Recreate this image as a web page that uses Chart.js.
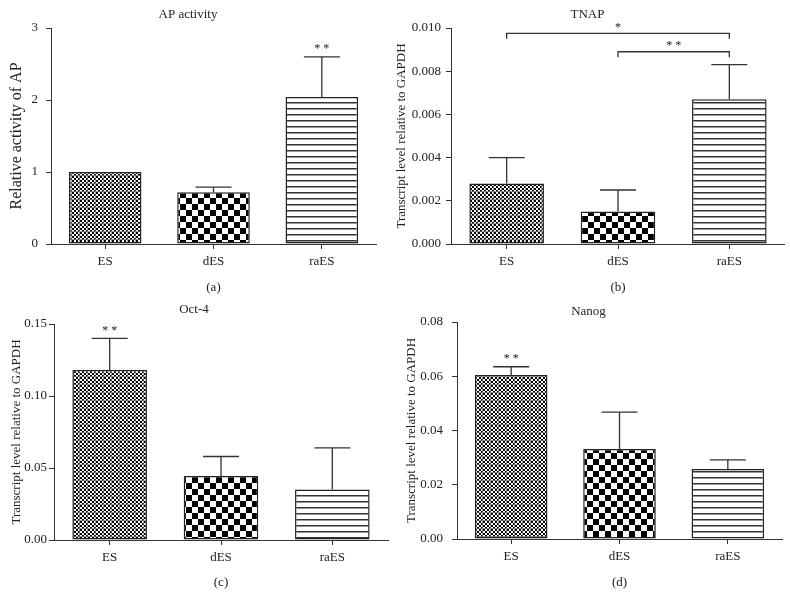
<!DOCTYPE html>
<html>
<head>
<meta charset="utf-8">
<script src="https://cdn.jsdelivr.net/npm/chart.js@4/dist/chart.umd.min.js"></script>
<style>
  body { margin: 0; background: #fff; }
  #wrap { position: relative; width: 790px; height: 597px; overflow: hidden; }
  canvas { position: absolute; }
</style>
</head>
<body>
<div id="wrap">
  <canvas id="chartA" width="395" height="300" style="left:0px;top:0px"></canvas>
  <canvas id="chartB" width="395" height="300" style="left:390px;top:0px"></canvas>
  <canvas id="chartC" width="395" height="300" style="left:0px;top:297px"></canvas>
  <canvas id="chartD" width="395" height="300" style="left:395px;top:297px"></canvas>
</div>
<script>
const categories = ['ES', 'dES', 'raES']

// means and upper error (SEM)
const apMean = [1.0, 0.72, 2.04]
const apErr = [0, 0.07, 0.56]
const apStars = ['', '', '**']

const tnapMean = [0.0028, 0.0015, 0.0067]
const tnapErr = [0.0012, 0.0010, 0.0016]
const tnapStars = ['', '', '']
const tnapBrackets = [
  { from: 0, to: 2, level: 0.00975, drop: 0.00025, label: '*' },
  { from: 1, to: 2, level: 0.0089, drop: 0.00025, label: '**' }
]

const oct4Mean = [0.118, 0.0445, 0.035]
const oct4Err = [0.022, 0.0135, 0.029]
const oct4Stars = ['**', '', '']

const nanogMean = [0.0605, 0.0332, 0.0258]
const nanogErr = [0.0030, 0.0136, 0.0034]
const nanogStars = ['**', '', '']

const serif = "'Liberation Serif', 'DejaVu Serif', serif"
const axisColor = '#333'

function makePattern (kind) {
  const c = document.createElement('canvas')
  const ctx = c.getContext('2d')
  if (kind === 'fine') {
    c.width = 8; c.height = 8
    ctx.fillStyle = '#fff'
    ctx.fillRect(0, 0, 8, 8)
    ctx.fillStyle = '#000'
    for (let i = 0; i < 4; i++) {
      for (let j = 0; j < 4; j++) {
        if ((i + j) % 2 === 0) ctx.fillRect(i * 2, j * 2, 2, 2)
      }
    }
    ctx.fillStyle = 'rgba(120,120,120,0.7)'
    ctx.fillRect(7, 0, 1, 8)
    ctx.fillRect(0, 7, 8, 1)
  } else if (kind === 'coarse') {
    c.width = 12; c.height = 12
    ctx.fillStyle = '#fff'
    ctx.fillRect(0, 0, 12, 12)
    ctx.fillStyle = '#000'
    ctx.fillRect(0, 0, 6, 6)
    ctx.fillRect(6, 6, 6, 6)
  } else {
    c.width = 6; c.height = 6
    ctx.fillStyle = '#fff'
    ctx.fillRect(0, 0, 6, 6)
    ctx.fillStyle = '#333'
    ctx.fillRect(0, 0, 6, 1.5)
  }
  return ctx.createPattern(c, 'repeat')
}

const patterns = [makePattern('fine'), makePattern('coarse'), makePattern('lines')]

const errorBarPlugin = {
  id: 'errorBars',
  afterDatasetsDraw (chart, args, opts) {
    const ctx = chart.ctx
    const meta = chart.getDatasetMeta(0)
    const y = chart.scales.y
    const ds = chart.data.datasets[0]
    ctx.save()
    ctx.strokeStyle = axisColor
    ctx.lineWidth = 1.3
    meta.data.forEach((bar, i) => {
      const err = opts.err[i]
      const topVal = ds.data[i] + err
      const yTop = y.getPixelForValue(topVal)
      if (err > 0) {
        ctx.beginPath()
        ctx.moveTo(bar.x, bar.y)
        ctx.lineTo(bar.x, yTop)
        ctx.moveTo(bar.x - 18, yTop)
        ctx.lineTo(bar.x + 18, yTop)
        ctx.stroke()
      }
      if (opts.stars[i]) {
        ctx.fillStyle = '#222'
        ctx.font = '12px ' + serif
        ctx.textAlign = 'center'
        ctx.textBaseline = 'middle'
        ctx.fillText(opts.stars[i].split('').join(' '), bar.x, yTop - 8)
      }
    })
    const brackets = opts.brackets || []
    brackets.forEach(b => {
      const x1 = meta.data[b.from].x
      const x2 = meta.data[b.to].x
      const yl = y.getPixelForValue(b.level)
      const yd = y.getPixelForValue(b.level - b.drop)
      ctx.beginPath()
      ctx.moveTo(x1, yd)
      ctx.lineTo(x1, yl)
      ctx.lineTo(x2, yl)
      ctx.lineTo(x2, yd)
      ctx.stroke()
      ctx.fillStyle = '#222'
      ctx.font = '12px ' + serif
      ctx.textAlign = 'center'
      ctx.textBaseline = 'middle'
      ctx.fillText(b.label.split('').join(' '), (x1 + x2) / 2, yl - 6)
    })
    ctx.restore()
  }
}

function makeChart (id, cfg) {
  const ctx = document.getElementById(id).getContext('2d')
  return new Chart(ctx, {
    type: 'bar',
    data: {
      labels: categories,
      datasets: [{
        data: cfg.mean,
        backgroundColor: patterns,
        borderColor: '#222',
        borderWidth: 1.5,
        borderSkipped: false,
        categoryPercentage: 1,
        barPercentage: 0.67
      }]
    },
    plugins: [errorBarPlugin],
    options: {
      responsive: false,
      animation: false,
      devicePixelRatio: 1,
      layout: { padding: { top: 0, right: cfg.padRight, bottom: 0, left: 0 } },
      plugins: {
        legend: { display: false },
        tooltip: { enabled: false },
        title: {
          display: true,
          text: cfg.title,
          color: '#222',
          font: { family: serif, size: 13, weight: 'normal' },
          padding: { top: cfg.titleTop, bottom: cfg.titleBottom }
        },
        errorBars: { err: cfg.err, stars: cfg.stars, brackets: cfg.brackets }
      },
      scales: {
        x: {
          offset: true,
          grid: { display: true, drawOnChartArea: false, offset: false, tickLength: 5, color: axisColor },
          border: { display: true, color: axisColor, width: 1 },
          ticks: { color: '#222', padding: 5, font: { family: serif, size: 13 } },
          title: {
            display: true,
            text: cfg.panel,
            color: '#222',
            font: { family: serif, size: 13 },
            padding: { top: 0, bottom: cfg.panelBottom }
          },
          afterFit: s => { s.height = cfg.xHeight }
        },
        y: {
          min: 0,
          max: cfg.max,
          grid: { display: true, drawOnChartArea: false, tickLength: 5, color: axisColor },
          border: { display: true, color: axisColor, width: 1 },
          ticks: {
            stepSize: cfg.step,
            color: '#222',
            padding: cfg.tickPad,
            font: { family: serif, size: 13 },
            callback: v => v.toFixed(cfg.digits)
          },
          title: {
            display: true,
            text: cfg.yTitle,
            color: '#222',
            font: { family: serif, size: cfg.yTitleSize },
            padding: { top: cfg.yTitlePad, bottom: 0 }
          },
          afterFit: s => { s.width = cfg.yWidth }
        }
      }
    }
  })
}

makeChart('chartA', {
  mean: apMean, err: apErr, stars: apStars, title: 'AP activity', panel: '(a)',
  yTitle: 'Relative activity of AP', yTitleSize: 16, max: 3, step: 1, digits: 0, tickPad: 8,
  yWidth: 51, xHeight: 56, padRight: 19, titleTop: 7, titleBottom: 5.4, panelBottom: 5, yTitlePad: 7
})

makeChart('chartB', {
  mean: tnapMean, err: tnapErr, stars: tnapStars, brackets: tnapBrackets, title: 'TNAP', panel: '(b)',
  yTitle: 'Transcript level relative to GAPDH', yTitleSize: 13, max: 0.01, step: 0.002, digits: 3, tickPad: 5,
  yWidth: 61, xHeight: 56, padRight: 0, titleTop: 7, titleBottom: 5.4, panelBottom: 5, yTitlePad: 4
})

makeChart('chartC', {
  mean: oct4Mean, err: oct4Err, stars: oct4Stars, title: 'Oct-4', panel: '(c)',
  yTitle: 'Transcript level relative to GAPDH', yTitleSize: 13, max: 0.15, step: 0.05, digits: 2, tickPad: 2,
  yWidth: 54, xHeight: 57, padRight: 7, titleTop: 5.2, titleBottom: 6.2, panelBottom: 7, yTitlePad: 9
})

makeChart('chartD', {
  mean: nanogMean, err: nanogErr, stars: nanogStars, title: 'Nanog', panel: '(d)',
  yTitle: 'Transcript level relative to GAPDH', yTitleSize: 13, max: 0.08, step: 0.02, digits: 2, tickPad: 9,
  yWidth: 62, xHeight: 58, padRight: 8, titleTop: 7.2, titleBottom: 2.2, panelBottom: 7, yTitlePad: 9
})
</script>
</body>
</html>
